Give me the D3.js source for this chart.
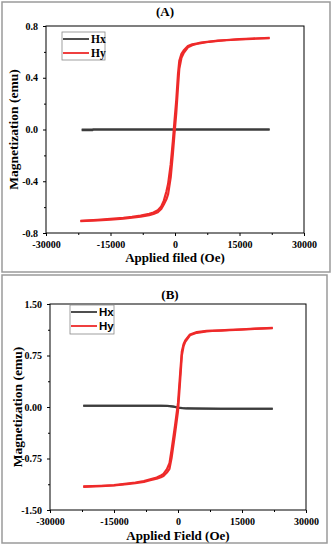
<!DOCTYPE html>
<html lang="en">
<head>
<meta charset="UTF-8">
<script src="https://d3js.org/d3.v7.min.js"></script>
<style>
  body { margin: 0; background: #fff; }
  svg { display: block; }
  .tick-lbl { font-family: "Liberation Serif", serif; font-weight: bold; font-size: 10px; }
  .ax-title { font-family: "Liberation Serif", serif; font-weight: bold; font-size: 13px; }
</style>
</head>
<body>
<script>
// ---- Panel A data ----
var fieldA = [-22000, -18000, -15000, -12000, -10000, -8000, -6000, -5000, -4000, -3200, -2600, -2000, -1600, -1000, -500, -160, 300, 700, 1000, 1500, 2000, 3000, 4000, 5000, 6000, 8000, 10000, 12000, 15000, 18000, 22000];
var hyA_desc = [-0.706, -0.698, -0.690, -0.683, -0.676, -0.666, -0.652, -0.641, -0.624, -0.595, -0.550, -0.48, -0.42, -0.27, -0.09, 0.05, 0.23, 0.43, 0.53, 0.585, 0.61, 0.645, 0.658, 0.665, 0.672, 0.680, 0.687, 0.692, 0.698, 0.703, 0.708];
var hyA_asc = [-0.708, -0.702, -0.696, -0.689, -0.682, -0.674, -0.662, -0.653, -0.640, -0.615, -0.580, -0.54, -0.50, -0.37, -0.19, -0.05, 0.13, 0.33, 0.47, 0.555, 0.59, 0.635, 0.652, 0.661, 0.668, 0.678, 0.685, 0.690, 0.696, 0.701, 0.706];
var hxFieldA = [-21700, -19200, -19000, -10000, 0, 10000, 22000];
var hxA_desc = [0, 0, 0, 0, 0, 0, 0];
var hxA_asc = [-0.005, -0.005, 0, 0, 0, 0, 0];
var yTicksA = [-0.8, -0.4, 0.0, 0.4, 0.8];

// ---- Panel B data ----
var fieldB = [-22200, -18000, -15000, -12000, -10000, -8000, -6500, -5000, -4000, -3400, -2600, -2000, -1500, -700, 0, 600, 900, 1300, 1700, 2800, 4400, 6700, 8000, 10000, 12000, 15000, 18000, 22200];
var hyB_desc = [-1.157, -1.147, -1.137, -1.116, -1.1, -1.079, -1.053, -1.026, -0.998, -0.975, -0.905, -0.82, -0.62, -0.27, 0.06, 0.57, 0.81, 0.915, 0.97, 1.056, 1.09, 1.108, 1.113, 1.117, 1.122, 1.132, 1.142, 1.152];
var hyB_asc = [-1.163, -1.153, -1.143, -1.124, -1.11, -1.091, -1.067, -1.044, -1.022, -1.005, -0.955, -0.90, -0.74, -0.39, -0.06, 0.47, 0.75, 0.885, 0.95, 1.044, 1.08, 1.102, 1.107, 1.113, 1.118, 1.128, 1.138, 1.148];
var hxFieldB = [-22200, -15000, -8000, -4000, -2500, -1000, 0, 1000, 2000, 4000, 10000, 22200];
var hxB_desc = [0.02, 0.02, 0.02, 0.019, 0.017, 0.008, -0.006, -0.016, -0.02, -0.022, -0.024, -0.025];
var hxB_asc = [0.018, 0.018, 0.018, 0.017, 0.015, 0.003, -0.012, -0.019, -0.021, -0.023, -0.025, -0.026];
var yTicksB = [-1.5, -0.75, 0.0, 0.75, 1.5];

var xTicks = [-30000, -15000, 0, 15000, 30000];
var seriesNames = ["Hx", "Hy"];
var seriesColors = ["#3c3c3c", "#ee2a2a"];

var svg = d3.select("body").append("svg").attr("width", 333).attr("height", 550);

// plain hyphen for negatives, like the original figure
function hyphen(fmt) {
  return function (v) { return fmt(v).replace("\u2212", "-"); };
}

function drawPanel(p) {
  var g = svg.append("g");

  // panel frame
  g.append("rect")
    .attr("x", p.frame[0]).attr("y", p.frame[1])
    .attr("width", p.frame[2]).attr("height", p.frame[3])
    .attr("fill", "none").attr("stroke", "#9a9a9a").attr("stroke-width", 1.5);

  var x = d3.scaleLinear().domain([-30000, 30000]).range([p.left, p.right]);
  var y = d3.scaleLinear().domain(p.yDomain).range([p.bottom, p.top]);

  // minor ticks
  var xMinor = d3.range(-30000, 30001, 7500).filter(function (v) { return xTicks.indexOf(v) < 0; });
  var yStep = (p.yTicks[1] - p.yTicks[0]) / 2;
  var yMinor = p.yTicks.slice(0, -1).map(function (v) { return v + yStep; });

  g.append("g").attr("transform", "translate(0," + p.bottom + ")")
    .call(d3.axisBottom(x).tickValues(xMinor).tickSize(2).tickFormat(""))
    .call(function (s) { s.select(".domain").remove(); });
  g.append("g").attr("transform", "translate(" + p.left + ",0)")
    .call(d3.axisLeft(y).tickValues(yMinor).tickSize(2).tickFormat(""))
    .call(function (s) { s.select(".domain").remove(); });

  var xa = g.append("g").attr("transform", "translate(0," + p.bottom + ")")
    .call(d3.axisBottom(x).tickValues(xTicks).tickSize(3).tickPadding(5).tickFormat(hyphen(d3.format("d"))));
  xa.select(".domain").remove();
  xa.selectAll("text").attr("class", "tick-lbl").attr("fill", "#000");

  var ya = g.append("g").attr("transform", "translate(" + p.left + ",0)")
    .call(d3.axisLeft(y).tickValues(p.yTicks).tickSize(3).tickPadding(5).tickFormat(hyphen(p.yFormat)));
  ya.select(".domain").remove();
  ya.selectAll("text").attr("class", "tick-lbl").attr("fill", "#000");

  // data lines
  var line = d3.line().x(function (d) { return x(d[0]); }).y(function (d) { return y(d[1]); });
  function pairs(xs, ys) { return xs.map(function (v, i) { return [v, ys[i]]; }); }

  [p.hxDesc, p.hxAsc].forEach(function (arr) {
    g.append("path").datum(pairs(p.hxField, arr)).attr("d", line)
      .attr("fill", "none").attr("stroke", seriesColors[0]).attr("stroke-width", 2);
  });
  [p.hyDesc, p.hyAsc].forEach(function (arr) {
    g.append("path").datum(pairs(p.field, arr)).attr("d", line)
      .attr("fill", "none").attr("stroke", seriesColors[1]).attr("stroke-width", 2.2)
      .attr("stroke-linejoin", "round");
  });

  // plot box
  g.append("rect")
    .attr("x", p.left).attr("y", p.top)
    .attr("width", p.right - p.left).attr("height", p.bottom - p.top)
    .attr("fill", "none").attr("stroke", "#000").attr("stroke-width", 1);

  // legend
  var lg = g.append("g");
  lg.append("rect")
    .attr("x", p.legend.x).attr("y", p.legend.y)
    .attr("width", p.legend.w).attr("height", p.legend.h)
    .attr("fill", "#fff").attr("stroke", "#888").attr("stroke-width", 0.8);
  seriesNames.forEach(function (name, i) {
    var ly = p.legend.y + 7 + i * 14;
    lg.append("line")
      .attr("x1", p.legend.x + 1).attr("x2", p.legend.x + p.legend.lineLen)
      .attr("y1", ly).attr("y2", ly)
      .attr("stroke", seriesColors[i]).attr("stroke-width", 1.8);
    lg.append("text")
      .attr("x", p.legend.x + p.legend.lineLen + 2).attr("y", ly + 4)
      .attr("font-family", p.legend.font).attr("font-weight", "bold")
      .attr("font-size", "11.5px").attr("fill", "#000")
      .text(name);
  });

  // titles
  g.append("text").attr("class", "ax-title")
    .attr("x", p.titleX).attr("y", p.titleY).attr("text-anchor", "middle")
    .text(p.title);
  g.append("text").attr("class", "ax-title")
    .attr("x", (p.left + p.right) / 2).attr("y", p.xTitleY).attr("text-anchor", "middle")
    .text(p.xTitle);
  g.append("text").attr("class", "ax-title")
    .attr("transform", "translate(" + p.yTitleX + "," + ((p.top + p.bottom) / 2) + ") rotate(-90)")
    .attr("text-anchor", "middle").style("font-size", "13.5px")
    .text("Magnetization (emu)");
}

drawPanel({
  frame: [2, 2, 328, 270],
  left: 46, right: 304, top: 26, bottom: 233,
  yDomain: [-0.8, 0.8], yTicks: yTicksA, yFormat: d3.format(".1f"),
  field: fieldA, hyDesc: hyA_desc, hyAsc: hyA_asc,
  hxField: hxFieldA, hxDesc: hxA_desc, hxAsc: hxA_asc,
  legend: { x: 62, y: 32, w: 43, h: 28, lineLen: 27, font: "Liberation Serif, serif" },
  title: "(A)", titleX: 165, titleY: 16,
  xTitle: "Applied filed (Oe)", xTitleY: 262, yTitleX: 18
});

drawPanel({
  frame: [2, 275, 325, 268],
  left: 50, right: 306, top: 304, bottom: 510,
  yDomain: [-1.5, 1.5], yTicks: yTicksB, yFormat: d3.format(".2f"),
  field: fieldB, hyDesc: hyB_desc, hyAsc: hyB_asc,
  hxField: hxFieldB, hxDesc: hxB_desc, hxAsc: hxB_asc,
  legend: { x: 70, y: 305, w: 44, h: 29, lineLen: 27, font: "Liberation Sans, Arial, sans-serif" },
  title: "(B)", titleX: 170, titleY: 299,
  xTitle: "Applied Field (Oe)", xTitleY: 540, yTitleX: 22
});
</script>
</body>
</html>
